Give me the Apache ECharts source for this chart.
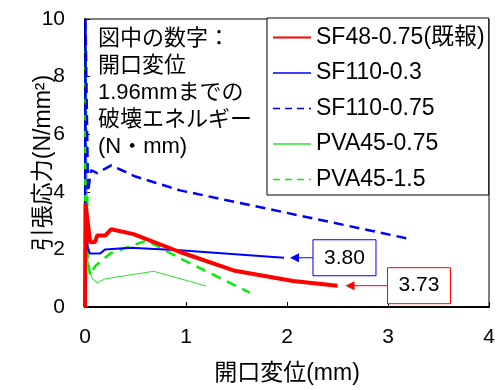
<!DOCTYPE html>
<html>
<head>
<meta charset="utf-8">
<script src="https://cdn.jsdelivr.net/npm/echarts@6/dist/echarts.min.js"></script>
<style>
html, body { margin: 0; padding: 0; background: #fff; }
#chart1 { width: 500px; height: 390px; }
</style>
</head>
<body>
<div id="chart1"></div>
<script>
var FONT = "'Liberation Sans', 'Noto Sans CJK JP', sans-serif";

var names = ['SF48-0.75(既報)', 'SF110-0.3', 'SF110-0.75', 'PVA45-0.75', 'PVA45-1.5'];

// [開口変位 mm, 引張応力 N/mm2]
var sf48_075 = [[0, 0], [0.005, 3.6], [0.05, 2.25], [0.1, 2.26], [0.12, 2.48], [0.2, 2.48], [0.26, 2.7],
    [0.48, 2.53], [0.94, 1.91], [1.47, 1.27], [2.06, 0.9], [2.5, 0.74]];
var sf110_03 = [[0, 0], [0.005, 2.8], [0.03, 2.0], [0.05, 1.86], [0.15, 1.86], [0.2, 2.0], [0.45, 2.06],
    [0.94, 1.97], [1.97, 1.71]];
var sf110_075 = [[0, 0], [0.005, 10], [0.03, 4.0], [0.06, 4.75], [0.12, 4.65], [0.26, 4.92], [0.5, 4.53],
    [0.94, 4.05], [1.93, 3.32], [3.22, 2.36]];
var pva45_075 = [[0, 0], [0.005, 9.3], [0.03, 1.6], [0.05, 1.25], [0.07, 1.0], [0.12, 0.84], [0.2, 0.98],
    [0.68, 1.24], [1.2, 0.73]];
var pva45_15 = [[0, 0], [0.005, 9.0], [0.03, 1.6], [0.05, 1.1], [0.1, 1.42], [0.25, 1.86], [0.61, 2.31],
    [0.94, 1.69], [1.63, 0.5]];

var xTicks = [0, 1, 2, 3, 4];
var yTicks = [0, 2, 4, 6, 8, 10];
var energyLabels = ['3.80', '3.73'];

var dom = document.getElementById('chart1');
var myChart = echarts.init(dom);

function line(name, data, color, width, type, z) {
    return {
        name: name,
        type: 'line',
        data: data,
        symbol: 'none',
        z: z,
        lineStyle: { color: color, width: width, type: type },
        itemStyle: { color: color }
    };
}

var noSymbol = { color: 'rgba(0,0,0,0)', borderWidth: 0, opacity: 0 };

myChart.setOption({
    backgroundColor: '#fff',
    animation: false,
    textStyle: { fontFamily: FONT },
    grid: { left: 85, right: 11, top: 19, bottom: 75, show: true, borderColor: '#000', borderWidth: 1 },
    xAxis: {
        type: 'value',
        min: xTicks[0], max: xTicks[xTicks.length - 1], interval: 1,
        name: '開口変位(mm)', nameLocation: 'middle', nameGap: 55, nameMoveOverlap: false,
        nameTextStyle: { fontSize: 23, color: '#000', fontFamily: FONT },
        axisLine: { lineStyle: { color: '#000', width: 2 } },
        axisTick: { inside: true, length: 5, lineStyle: { color: '#000' } },
        axisLabel: { fontSize: 21, color: '#000', margin: 20, fontFamily: FONT },
        splitLine: { show: false }
    },
    yAxis: {
        type: 'value',
        min: yTicks[0], max: yTicks[yTicks.length - 1], interval: 2,
        name: '引張応力(N/mm²)', nameLocation: 'middle', nameGap: 30, nameMoveOverlap: false,
        nameTextStyle: { fontSize: 23, color: '#000', fontFamily: FONT },
        axisLine: { lineStyle: { color: '#000', width: 2 } },
        axisTick: { inside: true, length: 5, lineStyle: { color: '#000' } },
        axisLabel: { fontSize: 21, color: '#000', margin: 20, fontFamily: FONT },
        splitLine: { show: false }
    },
    legend: {
        orient: 'vertical',
        left: 267, top: 18,
        padding: [8, 4, 4, 5],
        itemGap: 12.5,
        itemWidth: 38, itemHeight: 14,
        borderColor: '#000', borderWidth: 1,
        backgroundColor: '#fff',
        textStyle: { fontSize: 23, color: '#000', fontFamily: FONT },
        data: [
            { name: names[0], lineStyle: { width: 2 }, itemStyle: noSymbol },
            { name: names[1], lineStyle: { width: 1.5 }, itemStyle: noSymbol },
            { name: names[2], lineStyle: { width: 1.5, type: [7, 5] }, itemStyle: noSymbol },
            { name: names[3], lineStyle: { width: 1.5 }, itemStyle: noSymbol },
            { name: names[4], lineStyle: { width: 1.5, type: [7, 5] }, itemStyle: noSymbol }
        ]
    },
    series: [
        line(names[3], pva45_075, '#2ee02e', 1, 'solid', 2),
        line(names[4], pva45_15, '#00ee00', 2.5, [10, 7], 3),
        line(names[2], sf110_075, '#0000ff', 2.5, [10, 6], 4),
        line(names[1], sf110_03, '#0000ff', 2, 'solid', 5),
        line(names[0], sf48_075, '#ff0000', 4, 'solid', 6)
    ]
});

// 矢印と数値ボックス
function callout(end, label, color, offset, boxGap) {
    var p = myChart.convertToPixel({ seriesIndex: 0 }, end);
    var tx = p[0] + offset, ty = p[1];
    var bx = tx + boxGap, bw = 63, bh = 36;
    return [
        { type: 'line', z: 100, shape: { x1: tx + 8, y1: ty, x2: bx, y2: ty }, style: { stroke: color, lineWidth: 1 } },
        { type: 'polygon', z: 100, shape: { points: [[tx, ty], [tx + 9, ty - 4.5], [tx + 9, ty + 4.5]] }, style: { fill: color } },
        { type: 'rect', z: 100, shape: { x: bx, y: ty - bh / 2, width: bw, height: bh }, style: { fill: '#fff', stroke: color, lineWidth: 1 } },
        { type: 'text', z: 101, x: bx + bw / 2, y: ty, style: { text: label, fontSize: 21, fontFamily: FONT, fill: '#000', align: 'center', verticalAlign: 'middle' } }
    ];
}

var elems = [{
    type: 'text', z: 100, left: 98, top: 25,
    style: {
        text: '図中の数字：\n開口変位\n1.96mmまでの\n破壊エネルギー\n(N・mm)',
        fontSize: 22, lineHeight: 27, fontFamily: FONT, fill: '#000'
    }
}];
elems = elems.concat(callout(sf110_03[sf110_03.length - 1], energyLabels[0], '#0000ff', 6, 23));
elems = elems.concat(callout(sf48_075[sf48_075.length - 1], energyLabels[1], '#ff0000', 8, 42));

myChart.setOption({ graphic: elems });
</script>
</body>
</html>
